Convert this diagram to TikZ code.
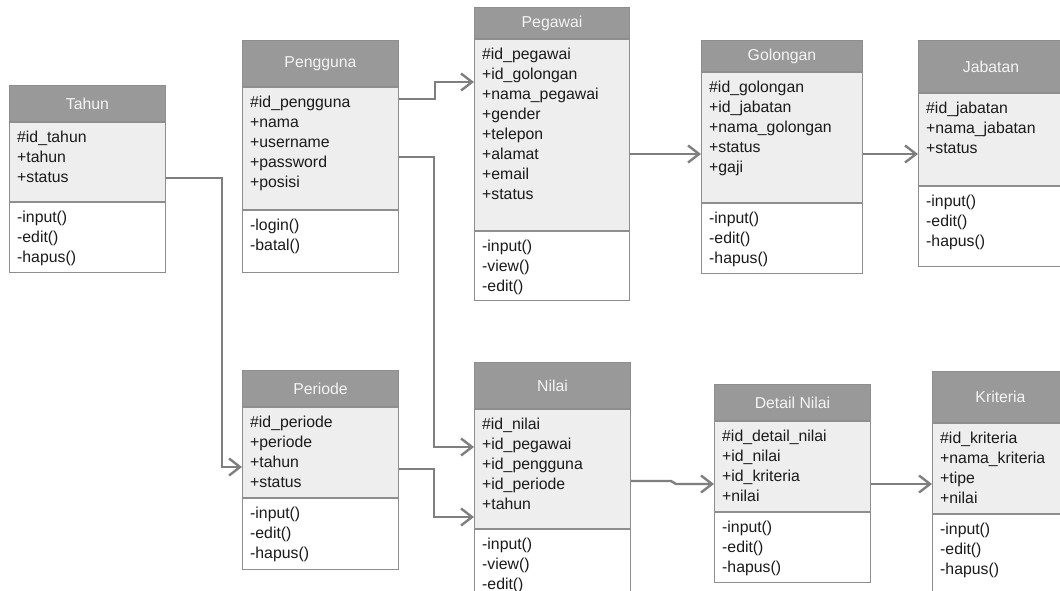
\documentclass[tikz,border=0pt]{standalone}
\usepackage{fontspec}
\setmainfont{Liberation Sans}
\usetikzlibrary{arrows.meta}

\definecolor{hdrfill}{HTML}{999999}
\definecolor{hdrtext}{HTML}{F4F4F4}
\definecolor{attrfill}{HTML}{EEEEEE}
\definecolor{boxline}{HTML}{8E8E8E}
\definecolor{linkgray}{HTML}{7F7F7F}
\definecolor{membertext}{HTML}{1A1A1A}

\newcommand\memfont{\fontsize{15.8pt}{20pt}\selectfont}

\tikzset{
  hdr/.style={draw=boxline, line width=1pt, fill=hdrfill, text=hdrtext,
    anchor=north west, inner sep=0pt, font=\memfont},
  attrsec/.style={draw=boxline, line width=1pt, fill=attrfill,
    anchor=north west, inner sep=0pt},
  methsec/.style={draw=boxline, line width=1pt, fill=white,
    anchor=north west, inner sep=0pt},
  members/.style={anchor=north west, inner sep=0pt, align=left,
    font=\memfont, text=membertext},
  link/.style={draw=linkgray, line width=2.4pt,
    -{Straight Barb[length=11pt, width=17pt, line width=2.4pt]}}
}

% class box: id, x, y, width, header height, attribute height, method height, title
\newcommand\umlclass[8]{%
  \node[hdr, minimum width=#4pt, minimum height=#5pt] (#1h) at (#2,#3) {#8};
  \node[attrsec, minimum width=#4pt, minimum height=#6pt] (#1a) at (#1h.south west) {};
  \node[methsec, minimum width=#4pt, minimum height=#7pt] (#1m) at (#1a.south west) {};
}
% members of a class box: id, attributes, operations
\newcommand\umlmembers[3]{%
  \node[members] (#1at) at ([shift={(8pt,-6pt)}]#1a.north west) {\strut #2};
  \node[members] (#1mt) at ([shift={(8pt,-6pt)}]#1m.north west) {\strut #3};
}

\begin{document}
\begin{tikzpicture}[x=1pt, y=-1pt]
\clip (0,0) rectangle (1060,590);
\fill[white] (0,0) rectangle (1060,590);

\umlclass{tahun}{9}{85}{156}{36}{79}{70}{Tahun}
\umlmembers{tahun}{\#id\_tahun\\+tahun\\+status}{-input()\\-edit()\\-hapus()}

\umlclass{pengguna}{242}{40}{156}{46}{122}{62}{Pengguna}
\umlmembers{pengguna}{\#id\_pengguna\\+nama\\+username\\+password\\+posisi}{-login()\\-batal()}

\umlclass{pegawai}{474}{7}{155}{31}{191}{69}{Pegawai}
\umlmembers{pegawai}{\#id\_pegawai\\+id\_golongan\\+nama\_pegawai\\+gender\\+telepon\\+alamat\\+email\\+status}{-input()\\-view()\\-edit()}

\umlclass{golongan}{701}{40}{161}{31}{130}{70}{Golongan}
\umlmembers{golongan}{\#id\_golongan\\+id\_jabatan\\+nama\_golongan\\+status\\+gaji}{-input()\\-edit()\\-hapus()}

\umlclass{jabatan}{918}{40}{145}{52}{92}{80}{Jabatan}
\umlmembers{jabatan}{\#id\_jabatan\\+nama\_jabatan\\+status}{-input()\\-edit()\\-hapus()}

\umlclass{periode}{242}{370}{156}{36}{90}{71}{Periode}
\umlmembers{periode}{\#id\_periode\\+periode\\+tahun\\+status}{-input()\\-edit()\\-hapus()}

\umlclass{nilai}{474}{362}{156}{46}{119}{80}{Nilai}
\umlmembers{nilai}{\#id\_nilai\\+id\_pegawai\\+id\_pengguna\\+id\_periode\\+tahun}{-input()\\-view()\\-edit()}

\umlclass{detail}{714}{384}{156}{36}{90}{70}{Detail Nilai}
\umlmembers{detail}{\#id\_detail\_nilai\\+id\_nilai\\+id\_kriteria\\+nilai}{-input()\\-edit()\\-hapus()}

\umlclass{kriteria}{932}{371}{136}{51}{90}{90}{Kriteria}
\umlmembers{kriteria}{\#id\_kriteria\\+nama\_kriteria\\+tipe\\+nilai}{-input()\\-edit()\\-hapus()}

% associations
\draw[link] ([yshift=-56pt]tahuna.north east) -- ++(56,0) |- ([yshift=-60pt]periodea.north west);
\draw[link] ([yshift=-12pt]penggunaa.north east) -- ++(36,0) |- ([yshift=-43pt]pegawaia.north west);
\draw[link] ([yshift=-70pt]penggunaa.north east) -- ++(35,0) |- ([yshift=-38pt]nilaia.north west);
\draw[link] ([yshift=-115pt]pegawaia.north east) -- ([yshift=-82pt]golongana.north west);
\draw[link] ([yshift=-82pt]golongana.north east) -- ([yshift=-61pt]jabatana.north west);
\draw[link] ([yshift=-62pt]periodea.north east) -- ++(35,0) |- ([yshift=-108pt]nilaia.north west);
\draw[link] ([yshift=-72pt]nilaia.north east) -- ++(40,0) -- ([shift={(-38pt,-63pt)}]detaila.north west) -- ([yshift=-63pt]detaila.north west);
\draw[link] ([yshift=-63pt]detaila.north east) -- ([yshift=-61pt]kriteriaa.north west);
\end{tikzpicture}
\end{document}
